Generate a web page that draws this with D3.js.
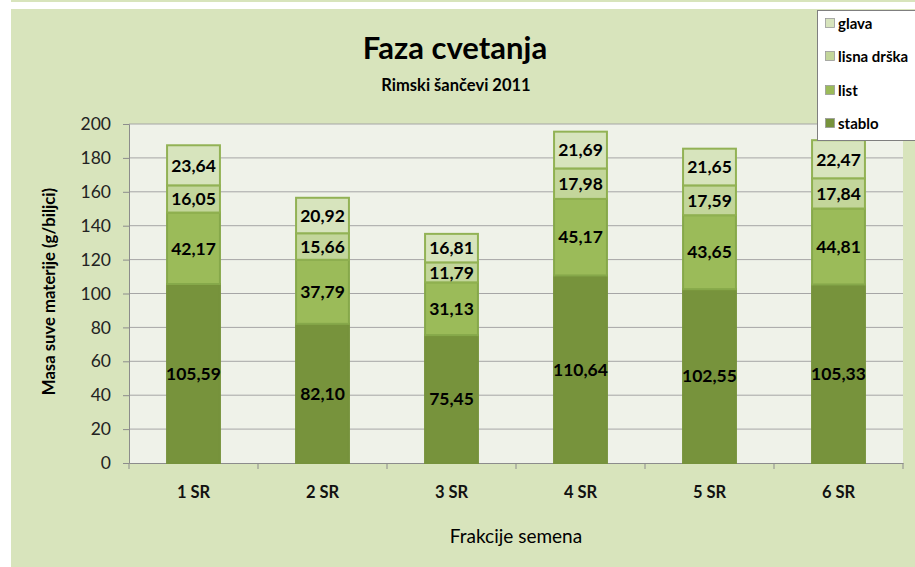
<!DOCTYPE html>
<html><head><meta charset="utf-8">
<script src="https://cdn.jsdelivr.net/npm/d3@7"></script>
<style>body{margin:0;background:#fff}svg{display:block}</style>
</head><body>
<script>
const categories = ["1 SR","2 SR","3 SR","4 SR","5 SR","6 SR"];
const stablo = [105.59, 82.10, 75.45, 110.64, 102.55, 105.33];
const list = [42.17, 37.79, 31.13, 45.17, 43.65, 44.81];
const lisnaDrska = [16.05, 15.66, 11.79, 17.98, 17.59, 17.84];
const glava = [23.64, 20.92, 16.81, 21.69, 21.65, 22.47];
const seriesNames = ["stablo","list","lisna drška","glava"];
const yTicks = [0,20,40,60,80,100,120,140,160,180,200];

const seriesValues = [stablo, list, lisnaDrska, glava];
const fills = ["#77933c","#9bbb59","#c3d69b","#d7e4bd"];
const strokes = ["#76923c","#86a84a","#8fb050","#92b255"];
const W = 915, H = 567;
const FONT = "Lato, 'Open Sans', sans-serif";
const svg = d3.select("body").append("svg").attr("width", W).attr("height", H);

svg.append("rect").attr("x",11).attr("y",0).attr("width",W-11).attr("height",2).attr("fill","#d8e4bc");
svg.append("rect").attr("x",11).attr("y",9).attr("width",W-11).attr("height",H-9).attr("fill","#d8e4bc");

const m = {l:129, r:903, t:124, b:463};
const x = d3.scaleBand().domain(categories).range([m.l, m.r]).paddingInner(0.59).paddingOuter(0.295);
const xb = d3.scaleBand().domain(categories).range([m.l, m.r]);
const y = d3.scaleLinear().domain([0,200]).range([m.b, m.t]);

svg.append("rect").attr("x",m.l).attr("y",m.t).attr("width",m.r-m.l).attr("height",m.b-m.t).attr("fill","#eff2e9");

// gridlines
svg.append("g").selectAll("line").data(yTicks.filter(d=>d>0)).join("line")
  .attr("x1",m.l).attr("x2",m.r).attr("y1",d=>y(d)).attr("y2",d=>y(d))
  .attr("stroke","#a6a6a6").attr("stroke-width",1);

// y axis
const ya = svg.append("g").attr("transform",`translate(${m.l},0)`)
  .call(d3.axisLeft(y).tickValues(yTicks).tickSize(6).tickPadding(12).tickFormat(d3.format("d")));
ya.selectAll("path,line").attr("stroke","#8c8c8c");
ya.selectAll("text").attr("font-family",FONT).attr("font-size",17.5).attr("fill","#222");

// x axis
const xa = svg.append("g").attr("transform",`translate(0,${m.b})`)
  .call(d3.axisBottom(xb).tickSize(0).tickPadding(23));
xa.select(".domain").attr("stroke","#8c8c8c");
xa.selectAll("text").attr("font-family",FONT).attr("font-size",16.5).attr("font-weight","bold").attr("fill","#111");
svg.append("g").selectAll("line").data(d3.range(categories.length+1)).join("line")
  .attr("x1",i=>m.l + i*xb.step()).attr("x2",i=>m.l + i*xb.step())
  .attr("y1",m.b).attr("y2",m.b+6).attr("stroke","#8c8c8c");

// stacks
const rows = categories.map((c,i)=>{const o={cat:c}; seriesNames.forEach((s,k)=>o[s]=seriesValues[k][i]); return o;});
const stack = d3.stack().keys(seriesNames)(rows);
stack.forEach((layer,k)=>{
  const g = svg.append("g");
  g.selectAll("rect").data(layer).join("rect")
    .attr("x",d=>x(d.data.cat)).attr("width",x.bandwidth())
    .attr("y",d=>y(d[1])).attr("height",d=>y(d[0])-y(d[1]))
    .attr("fill",fills[k]).attr("stroke",strokes[k]).attr("stroke-width",2);
  g.selectAll("text").data(layer).join("text")
    .attr("x",d=>x(d.data.cat)+x.bandwidth()/2).attr("y",d=>(y(d[0])+y(d[1]))/2)
    .attr("dy","0.36em").attr("text-anchor","middle")
    .attr("font-family",FONT).attr("font-size",17.5).attr("font-weight","bold").attr("fill","#000")
    .text(d=>d3.format(".2f")(d[1]-d[0]).replace(".",","));
});

// titles
svg.append("text").attr("x",455).attr("y",59).attr("text-anchor","middle")
  .attr("font-family",FONT).attr("font-size",31).attr("font-weight","bold").attr("fill","#000").text("Faza cvetanja");
svg.append("text").attr("x",456).attr("y",91).attr("text-anchor","middle")
  .attr("font-family",FONT).attr("font-size",16.5).attr("font-weight","bold").attr("fill","#000").text("Rimski šančevi 2011");
svg.append("text").attr("transform",`translate(55,${(m.t+m.b)/2 - 2}) rotate(-90)`).attr("text-anchor","middle")
  .attr("font-family",FONT).attr("font-size",16.7).attr("font-weight","bold").attr("fill","#000").text("Masa suve materije (g/biljci)");
svg.append("text").attr("x",516).attr("y",543).attr("text-anchor","middle")
  .attr("font-family",FONT).attr("font-size",19).attr("fill","#000").text("Frakcije semena");

// legend
const lg = svg.append("g");
lg.append("rect").attr("x",817.5).attr("y",10.5).attr("width",110).attr("height",130)
  .attr("fill","#fff").attr("stroke","#7f7f7f");
const legendOrder = [3,2,1,0];
const ly = [24,57,91,124];
legendOrder.forEach((k,i)=>{
  lg.append("rect").attr("x",825.5).attr("y",ly[i]-5.5).attr("width",9).attr("height",9)
    .attr("fill",fills[k]).attr("stroke","#9a9a9a").attr("stroke-width",0.8);
  lg.append("text").attr("x",838).attr("y",ly[i]).attr("dy","0.35em")
    .attr("font-family",FONT).attr("font-size",15).attr("font-weight","bold").attr("fill","#000").text(seriesNames[k]);
});
</script>
</body></html>
